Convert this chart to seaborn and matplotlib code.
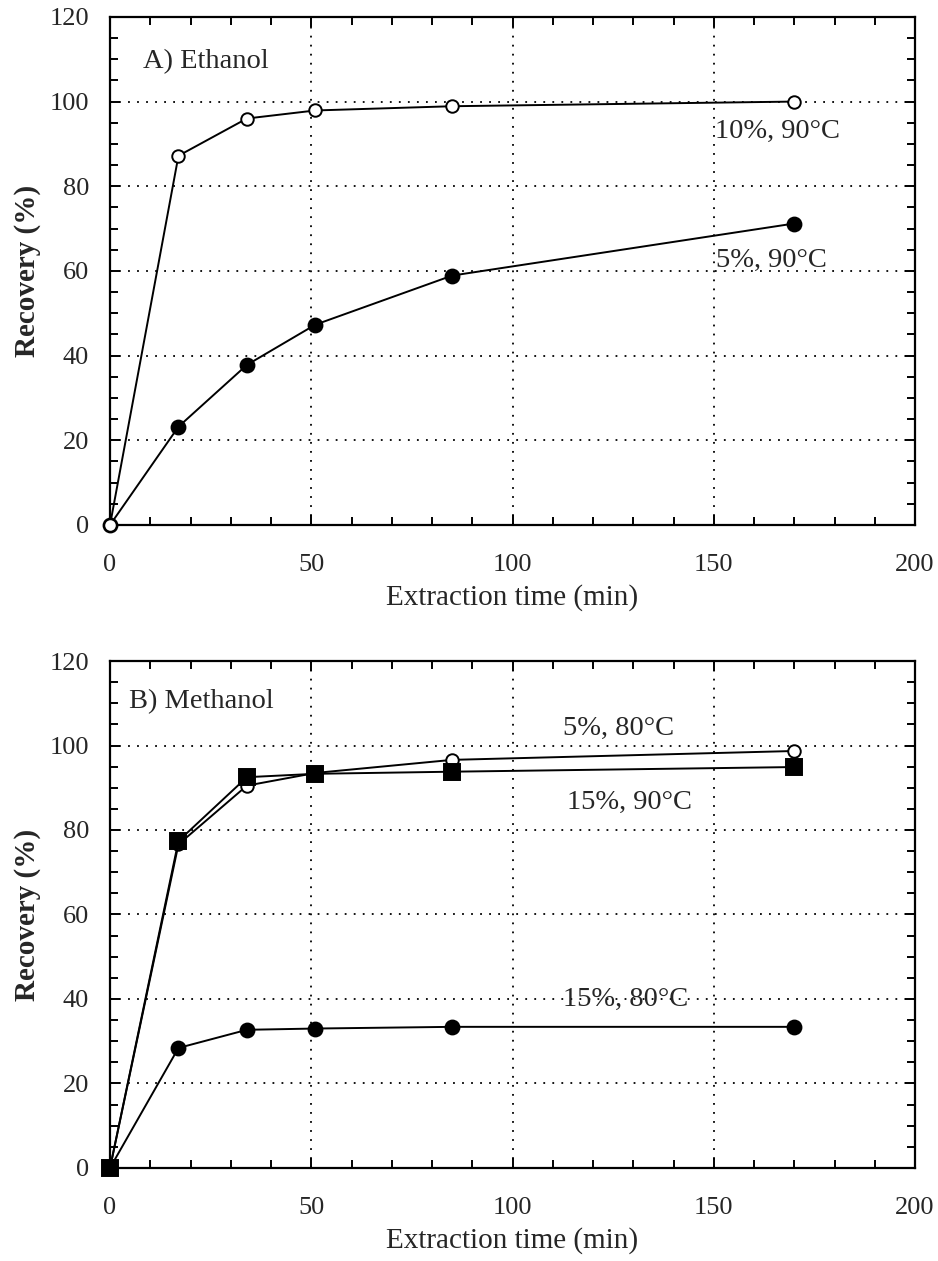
import matplotlib
matplotlib.use("Agg")
import matplotlib.pyplot as plt
from matplotlib.ticker import MultipleLocator
import seaborn as sns
import pandas as pd

# ---- data ----
time_min = [0, 17, 34, 51, 85, 170]

# Panel A: Ethanol
eth_10_90 = [0, 87.2, 96.0, 97.9, 98.9, 100.0]
eth_5_90 = [0, 23.2, 37.8, 47.3, 58.9, 71.2]

# Panel B: Methanol
meth_5_80 = [0, 76.6, 90.5, 93.5, 96.6, 98.7]
meth_15_90 = [0, 77.4, 92.5, 93.3, 93.8, 94.9]
meth_15_80 = [0, 28.4, 32.7, 33.0, 33.4, 33.4]

x_ticks = [0, 50, 100, 150, 200]
y_ticks = [0, 20, 40, 60, 80, 100, 120]

sns.set_style("ticks")
plt.rcParams['font.family'] = ['Liberation Serif', 'DejaVu Serif']

fig = plt.figure(figsize=(9.38, 12.61), dpi=100)
axA = fig.add_axes([0.1173, 0.5837, 0.8582, 0.4029])
axB = fig.add_axes([0.1173, 0.0738, 0.8582, 0.4020])

TICK_FS = 19
TXT_FS = 20.5
LAB_FS = 21


def style_axis(ax):
    ax.set_xlim(0, 200)
    ax.set_ylim(0, 120)
    ax.set_xticks(x_ticks)
    ax.set_yticks(y_ticks)
    ax.xaxis.set_minor_locator(MultipleLocator(10))
    ax.yaxis.set_minor_locator(MultipleLocator(5))
    ax.tick_params(which='both', direction='in', top=True, right=True,
                   width=1.4, color='black', labelsize=TICK_FS)
    ax.tick_params(axis='x', which='major', pad=21)
    ax.tick_params(axis='y', which='major', pad=15)
    ax.tick_params(which='major', length=7)
    ax.tick_params(which='minor', length=6)
    for s in ax.spines.values():
        s.set_linewidth(1.6)
        s.set_color('black')
        s.set_visible(True)
    ax.grid(True, which='major', linestyle=(0, (1, 4)), color='black', linewidth=1.3)
    ax.set_axisbelow(True)
    ax.set_xlabel('Extraction time (min)', fontsize=LAB_FS, labelpad=6)
    ax.set_ylabel('Recovery (%)', fontsize=LAB_FS, fontweight='bold', labelpad=6)


def draw(ax, y, marker, fill, ms):
    df = pd.DataFrame({'t': time_min, 'r': y})
    sns.lineplot(data=df, x='t', y='r', ax=ax, color='black', linewidth=1.4,
                 marker=marker, markersize=ms, markerfacecolor=fill,
                 markeredgecolor='black', markeredgewidth=1.4, clip_on=False,
                 zorder=3)


# Panel A
draw(axA, eth_5_90, 'o', 'black', 10)
draw(axA, eth_10_90, 'o', 'white', 9)
style_axis(axA)
axA.text(8.2, 109.5, 'A) Ethanol', fontsize=TXT_FS, va='center', ha='left')
axA.text(150.3, 93.0, '10%, 90°C', fontsize=TXT_FS, va='center', ha='left')
axA.text(150.5, 62.4, '5%, 90°C', fontsize=TXT_FS, va='center', ha='left')

# Panel B
draw(axB, meth_15_80, 'o', 'black', 10)
draw(axB, meth_5_80, 'o', 'white', 9)
draw(axB, meth_15_90, 's', 'black', 11)
style_axis(axB)
axB.text(4.7, 110.3, 'B) Methanol', fontsize=TXT_FS, va='center', ha='left')
axB.text(112.5, 104.1, '5%, 80°C', fontsize=TXT_FS, va='center', ha='left')
axB.text(113.5, 86.6, '15%, 90°C', fontsize=TXT_FS, va='center', ha='left')
axB.text(112.5, 39.8, '15%, 80°C', fontsize=TXT_FS, va='center', ha='left')

fig.savefig('out.png', dpi=100)
